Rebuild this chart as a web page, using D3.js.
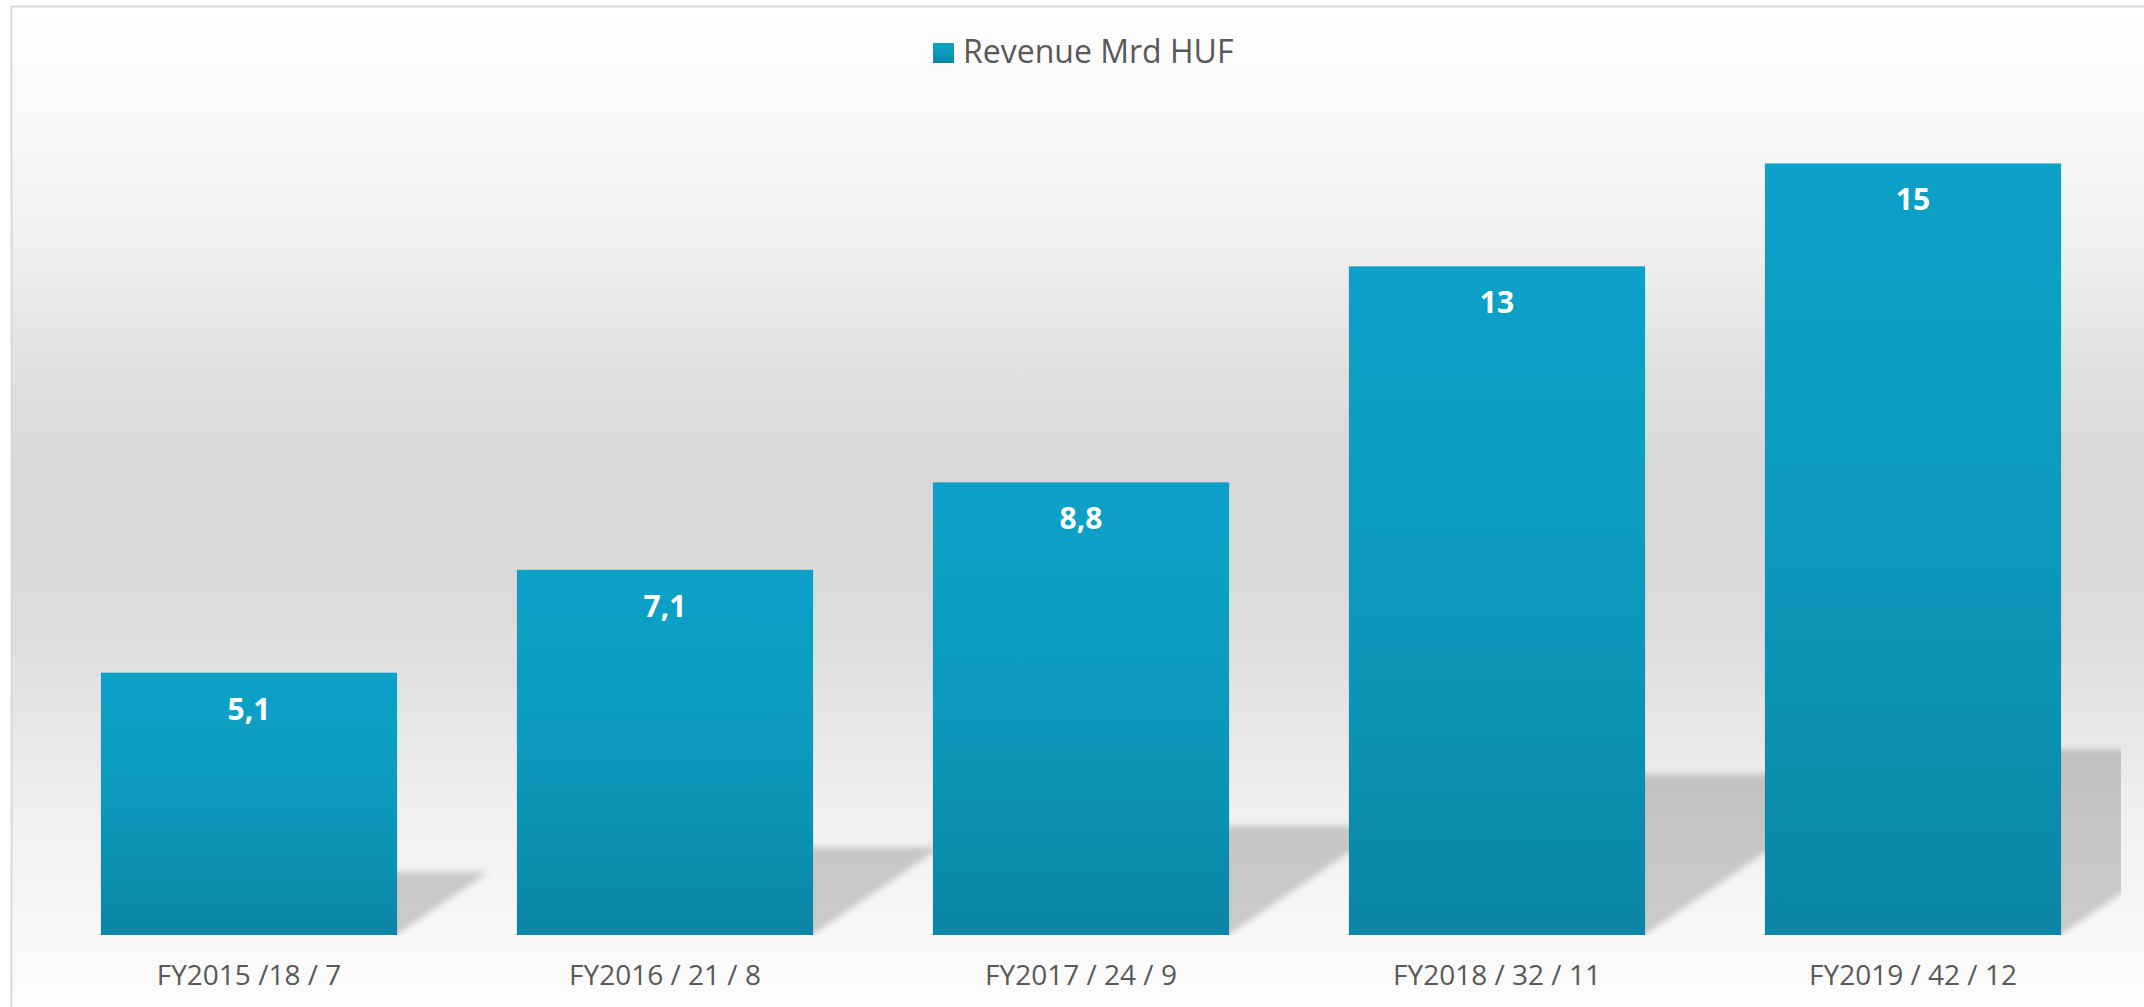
<!DOCTYPE html>
<html>
<head>
<meta charset="utf-8">
<script src="https://cdn.jsdelivr.net/npm/d3@7"></script>
<style>
  body { margin: 0; background: #ffffff; }
  svg { display: block; }
  text { font-family: "Open Sans", "Noto Sans", sans-serif; }
</style>
</head>
<body>
<div id="vis-barchart"></div>
<script>
// Revenue per fiscal year (label also carries the two other figures)
const categories = ["FY2015 /18 / 7", "FY2016 / 21 / 8", "FY2017 / 24 / 9", "FY2018 / 32 / 11", "FY2019 / 42 / 12"];
const revenue = [5.1, 7.1, 8.8, 13, 15];
const seriesName = "Revenue Mrd HUF";

(function(){
    const width = 2144;
    const height = 1007;

    // plot area (no visible value axis in the original)
    const plot = { left: 41, right: 2121, top: 112, bottom: 935 };

    const svg = d3.select("#vis-barchart").append("svg")
        .attr("width", width)
        .attr("height", height);

    const defs = svg.append("defs");

    // background of the chart area: white -> grey -> white
    const bg = defs.append("linearGradient")
        .attr("id", "bgGrad")
        .attr("gradientUnits", "userSpaceOnUse")
        .attr("x1", 0).attr("y1", 0).attr("x2", 0).attr("y2", height);
    [[0, "#ffffff"], [0.15, "#f7f7f7"], [0.25, "#efefef"], [0.37, "#e0e0e0"], [0.46, "#d9d9d9"],
     [0.55, "#d9d9d9"], [0.64, "#dedede"], [0.8, "#efefef"], [0.9, "#f6f6f6"], [1, "#fdfdfd"]]
        .forEach(s => bg.append("stop").attr("offset", s[0]).attr("stop-color", s[1]));

    // bar fill
    const barGrad = defs.append("linearGradient")
        .attr("id", "barGrad")
        .attr("x1", 0).attr("y1", 0).attr("x2", 0).attr("y2", 1);
    barGrad.append("stop").attr("offset", 0).attr("stop-color", "#0da1c7");
    barGrad.append("stop").attr("offset", 0.45).attr("stop-color", "#0c9bbf");
    barGrad.append("stop").attr("offset", 1).attr("stop-color", "#0b86a4");

    // soft perspective shadow
    defs.append("filter")
        .attr("id", "shadowBlur")
        .attr("x", "-20%").attr("y", "-20%")
        .attr("width", "140%").attr("height", "140%")
        .append("feGaussianBlur")
        .attr("stdDeviation", 3);

    defs.append("clipPath")
        .attr("id", "plotClip")
        .append("rect")
        .attr("x", plot.left)
        .attr("y", 0)
        .attr("width", plot.right - plot.left)
        .attr("height", plot.bottom);

    // chart frame
    svg.append("rect")
        .attr("x", 11.5)
        .attr("y", 6.5)
        .attr("width", width)
        .attr("height", height)
        .attr("fill", "url(#bgGrad)")
        .attr("stroke", "#d9d9d9")
        .attr("stroke-width", 2);

    // scales
    const x = d3.scaleBand()
        .domain(categories)
        .range([plot.left, plot.right])
        .paddingInner(0.288)
        .paddingOuter(0.144);

    const y = d3.scaleLinear()
        .domain([0, 16])
        .range([plot.bottom, plot.top]);

    const data = categories.map((c, i) => ({ cat: c, value: revenue[i] }));

    // shadows first so the bars sit on top of them
    const skew = 1.45;
    const squash = 0.24;
    svg.append("g")
        .attr("clip-path", "url(#plotClip)")
        .selectAll("polygon")
        .data(data)
        .join("polygon")
        .attr("points", d => {
            const x0 = x(d.cat), x1 = x(d.cat) + x.bandwidth();
            const base = y(0);
            const sh = (y(0) - y(d.value)) * squash;
            return [[x0, base], [x1, base], [x1 + skew * sh, base - sh], [x0 + skew * sh, base - sh]]
                .map(p => p.join(",")).join(" ");
        })
        .attr("fill", "#000")
        .attr("fill-opacity", 0.18)
        .attr("filter", "url(#shadowBlur)");

    // bars
    svg.append("g")
        .selectAll("rect")
        .data(data)
        .join("rect")
        .attr("x", d => x(d.cat))
        .attr("y", d => y(d.value))
        .attr("width", x.bandwidth())
        .attr("height", d => y(0) - y(d.value))
        .attr("fill", "url(#barGrad)");

    // value labels, decimal comma
    const hu = d3.formatLocale({ decimal: ",", thousands: "\u00a0", grouping: [3], currency: ["", " Ft"] });
    const fmt = hu.format(".3~r");

    svg.append("g")
        .selectAll("text")
        .data(data)
        .join("text")
        .attr("x", d => x(d.cat) + x.bandwidth() / 2)
        .attr("y", d => y(d.value) + 47)
        .attr("text-anchor", "middle")
        .attr("fill", "#ffffff")
        .attr("font-size", 30)
        .attr("font-weight", 700)
        .text(d => fmt(d.value));

    // category axis (labels only)
    const xAxis = svg.append("g")
        .attr("transform", `translate(0,${plot.bottom})`)
        .call(d3.axisBottom(x).tickSize(0).tickPadding(0));
    xAxis.select(".domain").remove();
    xAxis.selectAll("text")
        .attr("y", 50)
        .attr("dy", null)
        .attr("fill", "#595959")
        .attr("font-size", 28)
        .attr("font-family", "\"Open Sans\", \"Noto Sans\", sans-serif");

    // legend
    const legend = svg.append("g")
        .attr("transform", "translate(933,43)");
    legend.append("rect")
        .attr("width", 21)
        .attr("height", 20)
        .attr("fill", "url(#barGrad)");
    legend.append("text")
        .attr("x", 30)
        .attr("y", 20)
        .attr("fill", "#595959")
        .attr("font-size", 32)
        .text(seriesName);
})();
</script>
</body>
</html>
